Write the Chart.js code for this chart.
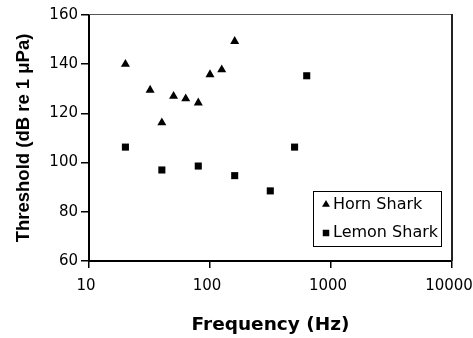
<!DOCTYPE html>
<html>
<head>
<meta charset="utf-8">
<script src="https://cdn.jsdelivr.net/npm/chart.js@4"></script>
<style>
  html, body { margin: 0; padding: 0; background: #fff; }
  canvas { display: block; }
</style>
</head>
<body>
<canvas id="sharkChart" width="473" height="338"></canvas>
<script>
// Hearing thresholds
const hornFreq = [20, 32, 40, 50, 63, 80, 100, 125, 160];
const hornThreshold = [140, 129.5, 116.2, 127, 126, 124.3, 135.8, 137.8, 149.3];
const lemonFreq = [20, 40, 80, 160, 315, 500, 630];
const lemonThreshold = [106.3, 97, 98.6, 94.7, 88.5, 106.3, 135.3];

const xTickValues = [10, 100, 1000, 10000];
const yTickValues = [60, 80, 100, 120, 140, 160];

const seriesNames = ['Horn Shark', 'Lemon Shark'];

function toPoints(xs, ys) {
    return xs.map((x, i) => ({ x: x, y: ys[i] }));
}

// thin frame on top / right of the plot area
const framePlugin = {
    id: 'frame',
    afterDatasetsDraw(chart) {
        const { ctx, chartArea: a } = chart;
        ctx.save();
        ctx.strokeStyle = '#555';
        ctx.lineWidth = 1;
        ctx.beginPath();
        ctx.moveTo(a.left, a.top - 0.5);
        ctx.lineTo(a.right, a.top - 0.5);
        ctx.stroke();
        ctx.strokeStyle = '#222';
        ctx.lineWidth = 2;
        ctx.beginPath();
        ctx.moveTo(a.right, a.top - 1);
        ctx.lineTo(a.right, a.bottom);
        ctx.stroke();
        ctx.restore();
    }
};

// boxed legend sitting inside the plot, bottom right
const boxLegendPlugin = {
    id: 'boxLegend',
    afterDraw(chart) {
        const { ctx, chartArea: a } = chart;
        const bx = a.right - 139, by = a.bottom - 70, bw = 128, bh = 55;
        ctx.save();
        ctx.fillStyle = '#fff';
        ctx.fillRect(bx, by, bw, bh);
        ctx.strokeStyle = '#000';
        ctx.lineWidth = 1;
        ctx.strokeRect(bx + 0.5, by + 0.5, bw, bh);
        ctx.font = '16px "DejaVu Sans"';
        ctx.textBaseline = 'middle';
        ctx.textAlign = 'left';
        const rows = [by + 13.5, by + 42];
        chart.data.datasets.forEach((ds, i) => {
            ctx.fillStyle = '#000';
            Chart.helpers.drawPoint(ctx, {
                pointStyle: ds.pointStyle,
                radius: 4.6,
                borderWidth: 0,
                rotation: 0
            }, bx + 13, rows[i]);
            ctx.fillStyle = '#000';
            ctx.fillText(ds.label, bx + 20, rows[i]);
        });
        ctx.restore();
    }
};

const ctx = document.getElementById('sharkChart').getContext('2d');
new Chart(ctx, {
    type: 'scatter',
    data: {
        datasets: [{
            label: seriesNames[0],
            data: toPoints(hornFreq, hornThreshold),
            pointStyle: 'triangle',
            pointRadius: 5.2,
            pointBorderWidth: 0,
            backgroundColor: '#000',
            borderColor: '#000'
        }, {
            label: seriesNames[1],
            data: toPoints(lemonFreq, lemonThreshold),
            pointStyle: 'rect',
            pointRadius: 5,
            pointBorderWidth: 0,
            backgroundColor: '#000',
            borderColor: '#000'
        }]
    },
    options: {
        responsive: false,
        animation: false,
        events: [],
        layout: { padding: { top: 15, right: 21, left: 0, bottom: 0 } },
        plugins: {
            legend: { display: false },
            tooltip: { enabled: false }
        },
        scales: {
            x: {
                type: 'logarithmic',
                min: 10,
                max: 10000,
                afterBuildTicks: s => { s.ticks = xTickValues.map(v => ({ value: v })); },
                afterFit: s => { s.height = 77; s.paddingLeft = 0; s.paddingRight = 0; },
                border: { display: true, color: '#000', width: 2 },
                grid: { display: true, drawOnChartArea: false, drawTicks: true, tickLength: 7, color: '#000', lineWidth: 1.5 },
                ticks: {
                    color: '#000',
                    font: { family: '"DejaVu Sans"', size: 15 },
                    padding: 9,
                    labelOffset: -3,
                    maxRotation: 0,
                    autoSkip: false,
                    callback: v => String(v)
                },
                title: {
                    display: true,
                    text: 'Frequency (Hz)',
                    color: '#000',
                    font: { family: '"DejaVu Sans"', size: 18.5, weight: 'bold' },
                    padding: { top: 0, bottom: 2 }
                }
            },
            y: {
                min: 60,
                max: 160,
                afterBuildTicks: s => { s.ticks = yTickValues.map(v => ({ value: v })); },
                afterFit: s => { s.width = 89; },
                border: { display: true, color: '#000', width: 2 },
                grid: { display: true, drawOnChartArea: false, drawTicks: true, tickLength: 8, color: '#000', lineWidth: 1.5 },
                ticks: {
                    color: '#000',
                    font: { family: '"DejaVu Sans"', size: 15 },
                    padding: 3
                },
                title: {
                    display: true,
                    text: 'Threshold (dB re 1 μPa)',
                    color: '#000',
                    font: { family: '"Liberation Sans"', size: 18.5, weight: 'bold' },
                    padding: { top: 13, bottom: 0 }
                }
            }
        }
    },
    plugins: [framePlugin, boxLegendPlugin]
});
</script>
</body>
</html>
